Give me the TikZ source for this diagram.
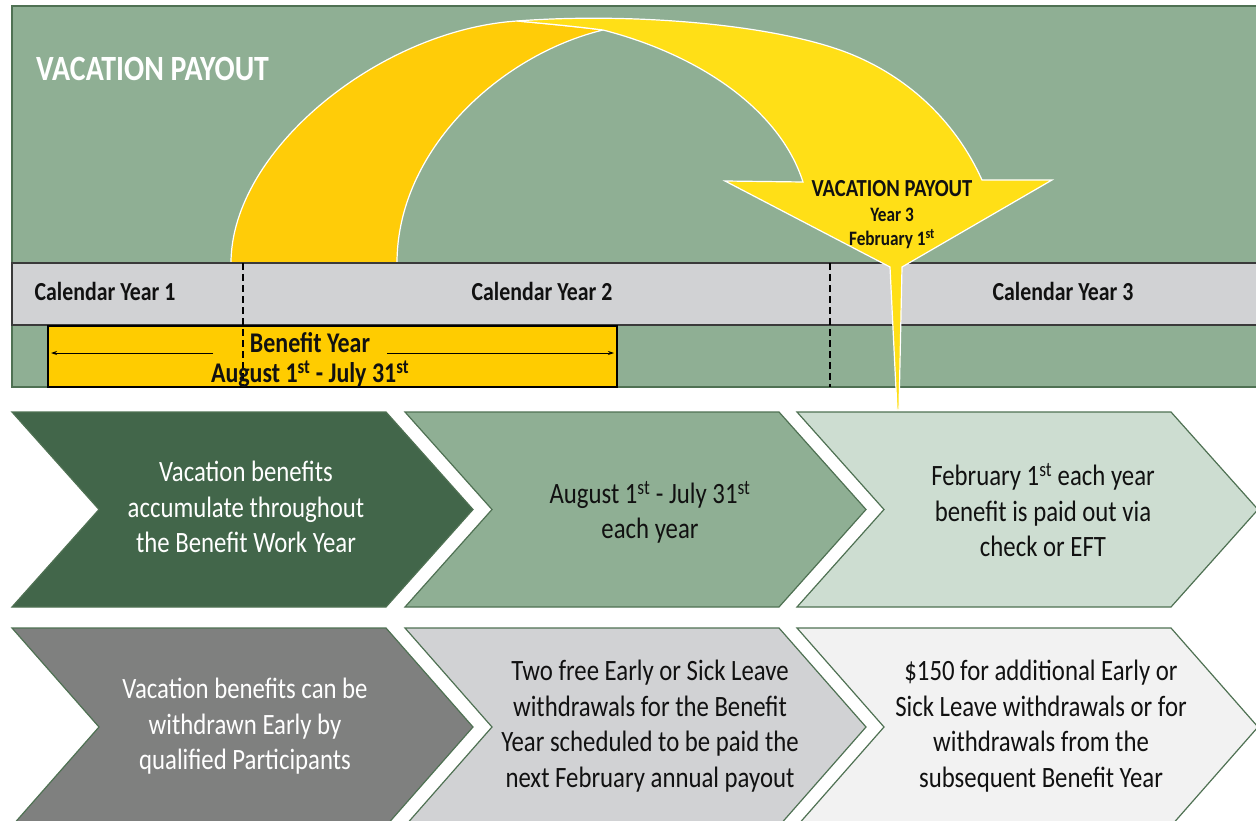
\documentclass[tikz,border=0pt]{standalone}
\usepackage{fontspec}
\setmainfont{Carlito}
\usepackage{graphicx}
\usetikzlibrary{arrows.meta}
\definecolor{panelgreen}{HTML}{8FAF94}
\definecolor{panelborder}{HTML}{4F7153}
\definecolor{darkgreen}{HTML}{42664A}
\definecolor{lightgreen}{HTML}{CDDDD1}
\definecolor{midgrey}{HTML}{7F807F}
\definecolor{bandgrey}{HTML}{D1D2D4}
\definecolor{palegrey}{HTML}{F2F2F2}
\definecolor{bandborder}{HTML}{3A3A3A}
\definecolor{yelA}{HTML}{FFCC08}
\definecolor{yelB}{HTML}{FFDF17}
\definecolor{boxyellow}{HTML}{FFCC00}
\definecolor{txt}{HTML}{111111}
\newcommand\sqz[1]{\scalebox{0.84}[1]{\begin{tabular}{@{}c@{}}#1\end{tabular}}}
\newcommand\sqzline[1]{\scalebox{0.84}[1]{#1}}
\newcommand\chevronshape[5]{% x0, ytop, ybot, fill, name
  \path[chev, fill=#4] (#1,#2) -- ++(374,0) -- (#1+461,{(#2+#3)/2}) -- (#1+374,#3) -- (#1,#3) -- (#1+87,{(#2+#3)/2}) -- cycle;}
\tikzset{
  chev/.style={draw=panelborder, line width=1.2},
  chevtext/.style={inner sep=0, font=\fontsize{29.5}{35.5}\selectfont},
  callabel/.style={inner sep=0, text=txt, font=\bfseries\fontsize{26}{30}\selectfont},
  boxlabel/.style={inner sep=0, anchor=base, text=txt, font=\bfseries\fontsize{28.5}{30}\selectfont},
  yelout/.style={draw=white, line width=1.2},
  divider/.style={draw=black, line width=1.6, dash pattern=on 7pt off 4pt},
}
\begin{document}
\begin{tikzpicture}[x=1pt,y=-1pt]
\useasboundingbox (0,0) rectangle (1256,821);
\clip (0,0) rectangle (1256,821);
% top panel
\path[fill=panelgreen, draw=panelborder, line width=1.5] (12,6) rectangle (1275,387);
\node[anchor=west, inner sep=0, text=white, font=\bfseries\fontsize{35.5}{40}\selectfont] (title) at (36,73) {\sqz{VACATION PAYOUT}};
% dark tail of curved arrow
\path[fill=yelA, yelout] (231,263) .. controls (231,150) and (380,30) .. (517,21)
  .. controls (550,24) and (580,27) .. (603,30)
  .. controls (500,55) and (397,150) .. (397,263) -- cycle;
% calendar band
\path[fill=bandgrey, draw=bandborder, line width=1.3] (12,263) rectangle (1275,325);
% benefit box
\path[fill=boxyellow, draw=black, line width=1.5] (48,326) rectangle (617,387);
% dividers
\coordinate (d1t) at (243,263); \coordinate (d1b) at (243,387);
\coordinate (d2t) at (830,263); \coordinate (d2b) at (830,387);
\path[divider] (d1t) -- (d1b);
\path[divider] (d2t) -- (d2b);
\node[callabel] (cy1) at (105,294) {\sqz{Calendar Year 1}};
\node[callabel] (cy2) at (542,294) {\sqz{Calendar Year 2}};
\node[callabel] (cy3) at (1063,294) {\sqz{Calendar Year 3}};
% benefit year text and arrows
\node[boxlabel] (by1) at (310,352) {\sqzline{Benefit Year}};
\node[boxlabel] (by2) at (310,382.5) {\sqzline{August 1\textsuperscript{st} - July 31\textsuperscript{st}}};
\coordinate (bl1) at (51,353); \coordinate (bl2) at (213,353);
\coordinate (br1) at (387,353); \coordinate (br2) at (614,353);
\draw[line width=0.9, -{Stealth[length=6pt,width=4pt]}] (bl2) -- (bl1);
\draw[line width=0.9, -{Stealth[length=6pt,width=4pt]}] (br1) -- (br2);
% bright head of curved arrow
\path[fill=yelB, yelout] (517,21) .. controls (620,13) and (760,22) .. (840,50)
  .. controls (905,73) and (955,120) .. (982,180) -- (1052,180) -- (902,267)
  -- (899,410) -- (897,410) -- (890,267) -- (725,181) -- (803,182)
  .. controls (780,110) and (700,55) .. (603,30)
  .. controls (580,27) and (550,24) .. (517,21) -- cycle;
\node[inner sep=0, text=txt, font=\bfseries\fontsize{24.5}{28}\selectfont] (vp) at (892,191) {\sqz{VACATION PAYOUT}};
\node[inner sep=0, text=txt, font=\bfseries\fontsize{20.5}{24}\selectfont] (vp2) at (892,229) {\sqz{Year 3\\February 1\textsuperscript{st}}};
% chevrons row 1
\chevronshape{12}{412}{607}{darkgreen}{}
\chevronshape{405}{412}{607}{panelgreen}{}
\chevronshape{797}{412}{607}{lightgreen}{}
% chevrons row 2
\chevronshape{12}{628}{826}{midgrey}{}
\chevronshape{405}{628}{826}{bandgrey}{}
\chevronshape{797}{628}{826}{palegrey}{}
% texts
\node[chevtext, text=white] (t11) at (246,510) {\sqz{Vacation benefits\\accumulate throughout\\the Benefit Work Year}};
\node[chevtext, text=txt] (t12) at (650,514) {\sqz{August 1\textsuperscript{st} - July 31\textsuperscript{st}\\each year}};
\node[chevtext, text=txt] (t13) at (1043,514) {\sqz{February 1\textsuperscript{st} each year\\benefit is paid out via\\check or EFT}};
\node[chevtext, text=white] (t21) at (245,727) {\sqz{Vacation benefits can be\\withdrawn Early by\\qualified Participants}};
\node[chevtext, text=txt] (t22) at (650,727) {\sqz{Two free Early or Sick Leave\\withdrawals for the Benefit\\Year scheduled to be paid the\\next February annual payout}};
\node[chevtext, text=txt] (t23) at (1041,727) {\sqz{\$150 for additional Early or\\Sick Leave withdrawals or for\\withdrawals from the\\subsequent Benefit Year}};
\end{tikzpicture}
\end{document}
